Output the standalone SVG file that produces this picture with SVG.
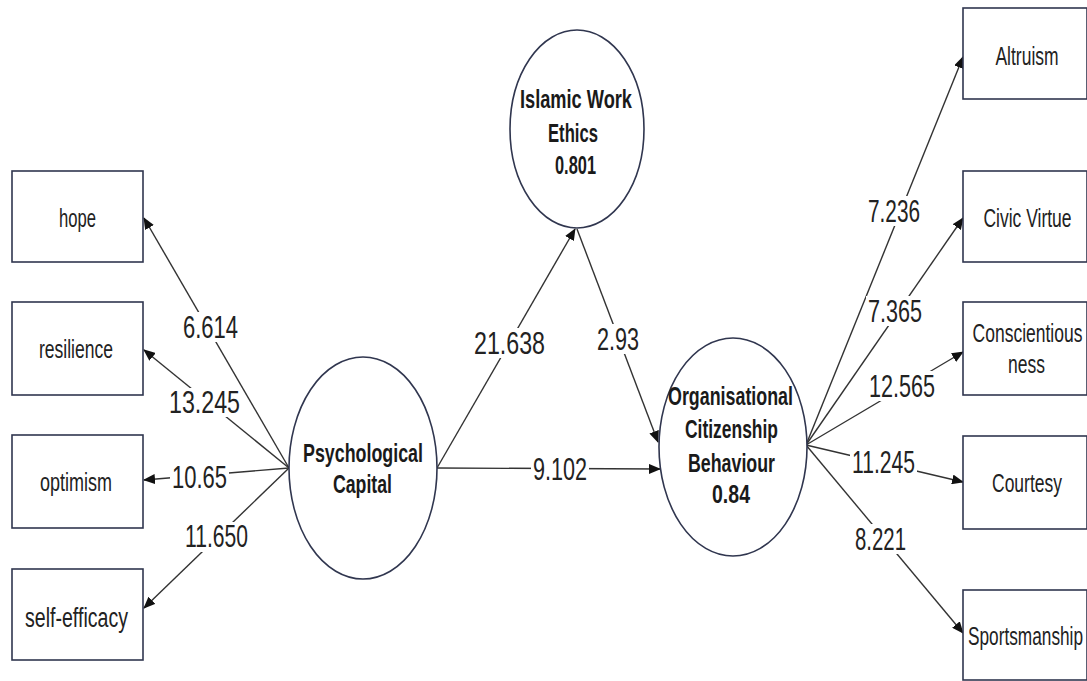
<svg xmlns="http://www.w3.org/2000/svg" width="1087" height="681" viewBox="0 0 1087 681">
<style>
.box{fill:#fff;stroke:#30364f;stroke-width:1.6}
.lat{fill:#fff;stroke:#30364f;stroke-width:1.6}
.edge{stroke:#333;stroke-width:1.4;fill:none;marker-end:url(#arr)}
.t{font-family:"Liberation Sans",Arial,sans-serif;font-size:25px;fill:#222}
.tc{font-family:"Liberation Sans",Arial,sans-serif;font-size:25px;fill:#222;text-anchor:middle}
.b{font-family:"Liberation Sans",Arial,sans-serif;font-size:25px;font-weight:bold;fill:#1a1a1a}
.n{font-family:"Liberation Sans",Arial,sans-serif;font-size:31px;fill:#222}
.bg{fill:#fff}
</style>
<defs>
<marker id="arr" markerUnits="userSpaceOnUse" markerWidth="12" markerHeight="10" refX="11" refY="5" orient="auto">
<path d="M0,0 L12,5 L0,10 z" fill="#111"/>
</marker>
</defs>
<rect width="1087" height="681" fill="#fff"/>

<g id="connectors">
<line class="edge" x1="289" y1="468" x2="144" y2="218"/>
<line class="edge" x1="289" y1="468" x2="144" y2="350"/>
<line class="edge" x1="289" y1="468" x2="144" y2="480"/>
<line class="edge" x1="289" y1="468" x2="144" y2="608"/>
<line class="edge" x1="437" y1="468" x2="575" y2="229"/>
<line class="edge" x1="577" y1="229" x2="658" y2="442"/>
<line class="edge" x1="437" y1="468" x2="660" y2="469"/>
<line class="edge" x1="806" y1="445" x2="963" y2="57"/>
<line class="edge" x1="806" y1="445" x2="963" y2="218"/>
<line class="edge" x1="806" y1="445" x2="963" y2="352"/>
<line class="edge" x1="806" y1="445" x2="963" y2="482"/>
<line class="edge" x1="806" y1="445" x2="963" y2="633"/>
<g id="edge-labels">
<rect class="bg" x="181" y="312" width="59" height="30"/>
<text class="n" x="183" y="338" textLength="55" lengthAdjust="spacingAndGlyphs">6.614</text>
<rect class="bg" x="167" y="388" width="75" height="29"/>
<text class="n" x="169" y="413" textLength="71" lengthAdjust="spacingAndGlyphs">13.245</text>
<rect class="bg" x="170" y="464" width="59" height="28"/>
<text class="n" x="172" y="488" textLength="55" lengthAdjust="spacingAndGlyphs">10.65</text>
<rect class="bg" x="183" y="522" width="67" height="30"/>
<text class="n" x="185" y="547" textLength="63" lengthAdjust="spacingAndGlyphs">11.650</text>
<rect class="bg" x="472" y="328" width="75" height="30"/>
<text class="n" x="474" y="354" textLength="71" lengthAdjust="spacingAndGlyphs">21.638</text>
<rect class="bg" x="595" y="324" width="46" height="30"/>
<text class="n" x="597" y="350" textLength="42" lengthAdjust="spacingAndGlyphs">2.93</text>
<rect class="bg" x="531" y="455" width="58" height="29"/>
<text class="n" x="533" y="480" textLength="54" lengthAdjust="spacingAndGlyphs">9.102</text>
<rect class="bg" x="866" y="196" width="56" height="30"/>
<text class="n" x="868" y="222" textLength="52" lengthAdjust="spacingAndGlyphs">7.236</text>
<rect class="bg" x="866" y="296" width="58" height="30"/>
<text class="n" x="868" y="322" textLength="54" lengthAdjust="spacingAndGlyphs">7.365</text>
<rect class="bg" x="867" y="371" width="70" height="30"/>
<text class="n" x="869" y="397" textLength="66" lengthAdjust="spacingAndGlyphs">12.565</text>
<rect class="bg" x="850" y="449" width="67" height="28"/>
<text class="n" x="852" y="473" textLength="63" lengthAdjust="spacingAndGlyphs">11.245</text>
<rect class="bg" x="853" y="524" width="55" height="30"/>
<text class="n" x="855" y="550" textLength="51" lengthAdjust="spacingAndGlyphs">8.221</text>
</g>
</g>

<g id="hope"><rect class="box" x="12" y="171" width="131" height="91"/>
<text class="t" x="59" y="227" textLength="37" lengthAdjust="spacingAndGlyphs">hope</text></g>
<g id="resilience"><rect class="box" x="12" y="302" width="131" height="93"/>
<text class="t" x="39" y="358" textLength="74" lengthAdjust="spacingAndGlyphs">resilience</text></g>
<g id="optimism"><rect class="box" x="12" y="435" width="131" height="93"/>
<text class="t" x="40" y="491" textLength="72" lengthAdjust="spacingAndGlyphs">optimism</text></g>
<g id="self-efficacy"><rect class="box" x="12" y="569" width="131" height="91"/>
<text class="t" x="25" y="627" textLength="103" lengthAdjust="spacingAndGlyphs" style="font-size:27px">self-efficacy</text></g>

<g id="psychological-capital"><ellipse class="lat" cx="363" cy="468" rx="74" ry="111"/>
<text class="b" x="303" y="462" textLength="120" lengthAdjust="spacingAndGlyphs">Psychological</text>
<text class="b" x="333" y="493" textLength="59" lengthAdjust="spacingAndGlyphs">Capital</text></g>

<g id="islamic-work-ethics"><ellipse class="lat" cx="577" cy="129" rx="67" ry="99"/>
<text class="b" x="520" y="108" textLength="112" lengthAdjust="spacingAndGlyphs">Islamic Work</text>
<text class="b" x="548" y="142" textLength="50" lengthAdjust="spacingAndGlyphs">Ethics</text>
<text class="b" x="555" y="174" textLength="41" lengthAdjust="spacingAndGlyphs">0.801</text></g>

<g id="ocb"><ellipse class="lat" cx="733" cy="447" rx="74" ry="109"/>
<text class="b" x="668" y="405" textLength="125" lengthAdjust="spacingAndGlyphs">Organisational</text>
<text class="b" x="685" y="438" textLength="93" lengthAdjust="spacingAndGlyphs">Citizenship</text>
<text class="b" x="688" y="472" textLength="87" lengthAdjust="spacingAndGlyphs">Behaviour</text>
<text class="b" x="712" y="503" textLength="38" lengthAdjust="spacingAndGlyphs">0.84</text></g>

<g id="altruism"><rect class="box" x="963" y="8" width="124" height="91"/>
<text class="tc" transform="translate(1027,65) scale(0.7,1)">Altruism</text></g>
<g id="civic-virtue"><rect class="box" x="963" y="171" width="124" height="91"/>
<text class="tc" transform="translate(1027.5,227) scale(0.7,1)">Civic Virtue</text></g>
<g id="conscientiousness"><rect class="box" x="963" y="302" width="124" height="93"/>
<text class="tc" transform="translate(1027.5,342) scale(0.7,1)">Conscientious</text>
<text class="tc" transform="translate(1026.5,373) scale(0.7,1)">ness</text></g>
<g id="courtesy"><rect class="box" x="963" y="436" width="124" height="93"/>
<text class="tc" transform="translate(1027,492) scale(0.7,1)">Courtesy</text></g>
<g id="sportsmanship"><rect class="box" x="963" y="590" width="124" height="90"/>
<text class="tc" transform="translate(1025.5,645) scale(0.69,1)">Sportsmanship</text></g>
</svg>
